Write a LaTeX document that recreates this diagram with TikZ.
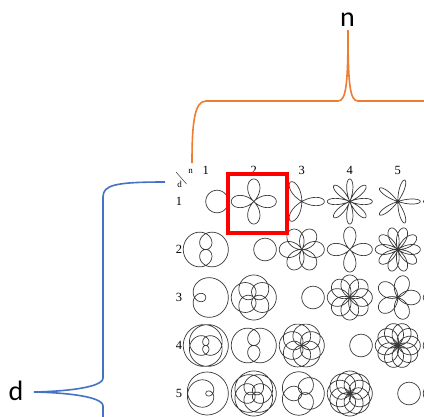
\documentclass[tikz,border=0pt]{standalone}
\usepackage{fontspec}
\newfontfamily\tabfont{Liberation Serif}
\newfontfamily\bracefont{Carlito}
\definecolor{nbr}{HTML}{ED7D31}
\definecolor{dbr}{HTML}{4472C4}
\tikzset{
  rose/.style={line width=.7pt,draw=black!78},
  hdr/.style={font=\tabfont\fontsize{12.5}{12.5}\selectfont,inner sep=0pt},
  corner/.style={font=\tabfont\fontsize{9}{9}\selectfont,inner sep=0pt},
  bracelbl/.style={font=\bracefont\fontsize{28}{28}\selectfont,inner sep=0pt},
  nbrace/.style={line width=1.6pt,draw=nbr},
  dbrace/.style={line width=1.6pt,draw=dbr},
  pick/.style={draw=red,line width=3.8pt}
}

\begin{document}
\begin{tikzpicture}[x=1pt,y=-1pt]
	\clip (0,0) rectangle (424,416);

	% table header
	\node[corner] (cn) at (190.5,171) {n};
	\node[corner] (cd) at (179.5,184.5) {d};
	\draw[line width=.5pt,black!80] (176,172) -- (186.5,184);
	\foreach \n in {1,...,5} {
		\node[hdr] (col\n) at ({205.8+48*(\n-1)},170) {\n};
	}
	\foreach \d in {1,...,5} {
		\node[hdr] (row\d) at (179,{201.5+48*(\d-1)}) {\d};
	}

	% roses r = cos(n/d theta), column 6 only peeks in at the edge
	\foreach \d in {1,...,5} {
		\foreach \n [evaluate=\n as \ns using int(60*\n+100*\d+1)] in {1,...,6} {
			\pgfmathsetmacro\cx{205.8+48*(\n-1)}
			\pgfmathsetmacro\cy{201.5+48*(\d-1)}
			\draw[rose] plot[smooth,domain=0:360*\d,samples=\ns]
				({\cx+22.5*cos(\x)*cos(\n/\d*\x)},{\cy+22.5*sin(\x)*cos(\n/\d*\x)});
		}
	}

	% picked curve
	\draw[pick] (228,174) rectangle (287,233);

	% braces
	\node[bracelbl] (nlbl) at (347.5,19.5) {n};
	\node[bracelbl] (dlbl) at (16,391) {d};
	\coordinate (ntip) at (348,30);
	\coordinate (dtip) at (34,392);
	\draw[nbrace] (192,163) .. controls (192,125) and (194,101) .. (206,101)
		-- (338,101) .. controls (346,101) and (348,85) .. (ntip)
		.. controls (348,85) and (350,101) .. (358,101) -- (430,101);
	\draw[dbrace] (165,182) .. controls (115,182) and (103,185) .. (103,197)
		-- (103,378) .. controls (103,388) and (62,391.5) .. (dtip)
		.. controls (62,392.5) and (103,396) .. (103,406) -- (103,420);
\end{tikzpicture}
\end{document}
